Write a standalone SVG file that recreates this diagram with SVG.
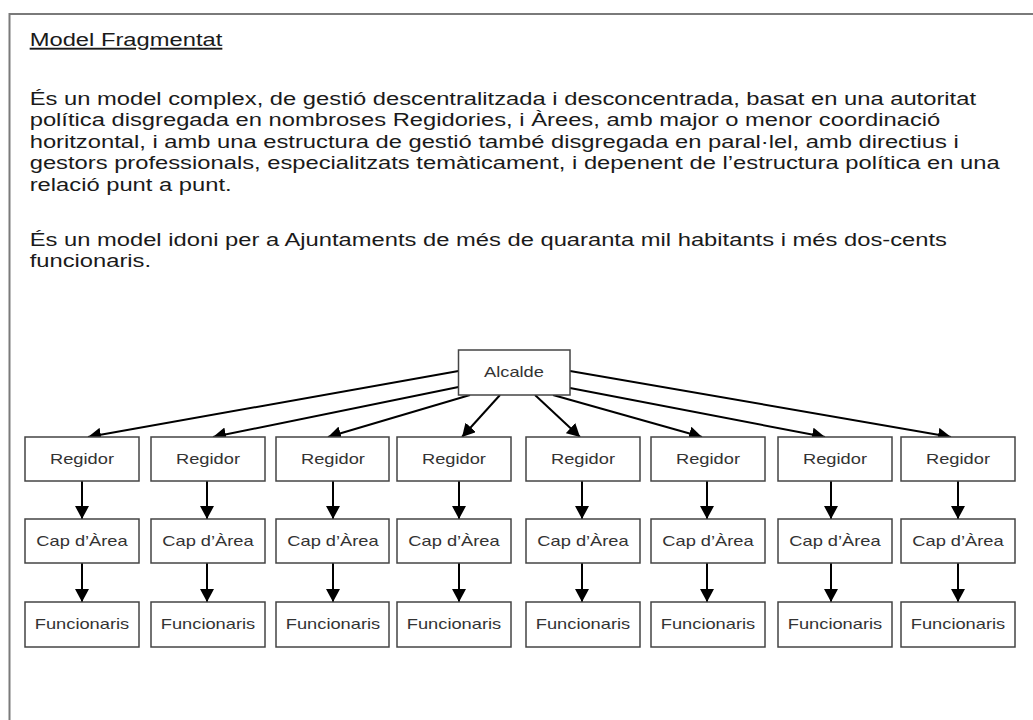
<svg xmlns="http://www.w3.org/2000/svg" width="1033" height="720" viewBox="0 0 1033 720">
<defs>
<marker id="ah" markerUnits="userSpaceOnUse" markerWidth="14" markerHeight="14" refX="13" refY="7" orient="auto">
<path d="M0,0 L13,7 L0,14 z" fill="#000"/>
</marker>
<style>
.frame{stroke:#7a7a7a;stroke-width:2;fill:none}
.box{fill:#fff;stroke:#444;stroke-width:1.5}
.lbl{font-family:"Liberation Sans",Arial,sans-serif;font-size:14.4px;fill:#333;text-anchor:middle}
.para{font-family:"Liberation Sans",Arial,sans-serif;font-size:18.9px;fill:#1a1a1a}
.conn line{stroke:#000;stroke-width:2;marker-end:url(#ah)}
</style>
</defs>
<rect width="1033" height="720" fill="#fff"/>
<path class="frame" d="M9.5,720 V14 H1033"/>
<g id="text">
<text class="para" x="23.62" y="46" transform="scale(1.257 1)" text-decoration="underline">Model Fragmentat</text>
<text class="para" x="23.62" y="105" transform="scale(1.257 1)">És un model complex, de gestió descentralitzada i desconcentrada, basat en una autoritat</text>
<text class="para" x="23.62" y="126.5" transform="scale(1.257 1)">política disgregada en nombroses Regidories, i Àrees, amb major o menor coordinació</text>
<text class="para" x="23.62" y="148" transform="scale(1.257 1)">horitzontal, i amb una estructura de gestió també disgregada en paral·lel, amb directius i</text>
<text class="para" x="23.62" y="169.5" transform="scale(1.257 1)">gestors professionals, especialitzats temàticament, i depenent de l’estructura política en una</text>
<text class="para" x="23.62" y="191" transform="scale(1.257 1)">relació punt a punt.</text>
<text class="para" x="23.62" y="246" transform="scale(1.257 1)">És un model idoni per a Ajuntaments de més de quaranta mil habitants i més dos-cents</text>
<text class="para" x="23.62" y="267.5" transform="scale(1.257 1)">funcionaris.</text>
</g>
<g id="connectors" class="conn">
<line x1="458.5" y1="371" x2="88" y2="437"/>
<line x1="458.5" y1="387" x2="213" y2="437"/>
<line x1="470" y1="395" x2="328" y2="437"/>
<line x1="500" y1="395" x2="462" y2="437"/>
<line x1="535" y1="395" x2="580" y2="437"/>
<line x1="553" y1="395" x2="702" y2="437"/>
<line x1="570" y1="388" x2="825" y2="437"/>
<line x1="570" y1="371" x2="951" y2="437"/>
<line x1="82" y1="481" x2="82" y2="519"/>
<line x1="207" y1="481" x2="207" y2="519"/>
<line x1="333" y1="481" x2="333" y2="519"/>
<line x1="459" y1="481" x2="459" y2="519"/>
<line x1="582" y1="481" x2="582" y2="519"/>
<line x1="707" y1="481" x2="707" y2="519"/>
<line x1="831" y1="481" x2="831" y2="519"/>
<line x1="958" y1="481" x2="958" y2="519"/>
<line x1="82" y1="563" x2="82" y2="602"/>
<line x1="207" y1="563" x2="207" y2="602"/>
<line x1="333" y1="563" x2="333" y2="602"/>
<line x1="459" y1="563" x2="459" y2="602"/>
<line x1="582" y1="563" x2="582" y2="602"/>
<line x1="707" y1="563" x2="707" y2="602"/>
<line x1="831" y1="563" x2="831" y2="602"/>
<line x1="958" y1="563" x2="958" y2="602"/>
</g>
<g id="alcalde"><rect class="box" x="458.5" y="350" width="111.5" height="45"/><text class="lbl" x="404.72" y="377" transform="scale(1.27 1)">Alcalde</text></g>
<g id="regidor1"><rect class="box" x="25" y="437" width="114" height="44"/><text class="lbl" x="64.57" y="464" transform="scale(1.27 1)">Regidor</text></g>
<g id="regidor2"><rect class="box" x="151" y="437" width="114" height="44"/><text class="lbl" x="163.78" y="464" transform="scale(1.27 1)">Regidor</text></g>
<g id="regidor3"><rect class="box" x="276" y="437" width="113" height="44"/><text class="lbl" x="262.2" y="464" transform="scale(1.27 1)">Regidor</text></g>
<g id="regidor4"><rect class="box" x="397" y="437" width="114" height="44"/><text class="lbl" x="357.48" y="464" transform="scale(1.27 1)">Regidor</text></g>
<g id="regidor5"><rect class="box" x="526" y="437" width="114" height="44"/><text class="lbl" x="459.06" y="464" transform="scale(1.27 1)">Regidor</text></g>
<g id="regidor6"><rect class="box" x="651" y="437" width="114" height="44"/><text class="lbl" x="557.48" y="464" transform="scale(1.27 1)">Regidor</text></g>
<g id="regidor7"><rect class="box" x="778" y="437" width="114" height="44"/><text class="lbl" x="657.48" y="464" transform="scale(1.27 1)">Regidor</text></g>
<g id="regidor8"><rect class="box" x="901" y="437" width="114" height="44"/><text class="lbl" x="754.33" y="464" transform="scale(1.27 1)">Regidor</text></g>
<g id="cap1"><rect class="box" x="25" y="519" width="114" height="44"/><text class="lbl" x="64.57" y="546" transform="scale(1.27 1)">Cap d’Àrea</text></g>
<g id="cap2"><rect class="box" x="151" y="519" width="114" height="44"/><text class="lbl" x="163.78" y="546" transform="scale(1.27 1)">Cap d’Àrea</text></g>
<g id="cap3"><rect class="box" x="276" y="519" width="113" height="44"/><text class="lbl" x="262.2" y="546" transform="scale(1.27 1)">Cap d’Àrea</text></g>
<g id="cap4"><rect class="box" x="397" y="519" width="114" height="44"/><text class="lbl" x="357.48" y="546" transform="scale(1.27 1)">Cap d’Àrea</text></g>
<g id="cap5"><rect class="box" x="526" y="519" width="114" height="44"/><text class="lbl" x="459.06" y="546" transform="scale(1.27 1)">Cap d’Àrea</text></g>
<g id="cap6"><rect class="box" x="651" y="519" width="114" height="44"/><text class="lbl" x="557.48" y="546" transform="scale(1.27 1)">Cap d’Àrea</text></g>
<g id="cap7"><rect class="box" x="778" y="519" width="114" height="44"/><text class="lbl" x="657.48" y="546" transform="scale(1.27 1)">Cap d’Àrea</text></g>
<g id="cap8"><rect class="box" x="901" y="519" width="114" height="44"/><text class="lbl" x="754.33" y="546" transform="scale(1.27 1)">Cap d’Àrea</text></g>
<g id="func1"><rect class="box" x="25" y="602" width="114" height="45"/><text class="lbl" x="64.57" y="629" transform="scale(1.27 1)">Funcionaris</text></g>
<g id="func2"><rect class="box" x="151" y="602" width="114" height="45"/><text class="lbl" x="163.78" y="629" transform="scale(1.27 1)">Funcionaris</text></g>
<g id="func3"><rect class="box" x="276" y="602" width="113" height="45"/><text class="lbl" x="262.2" y="629" transform="scale(1.27 1)">Funcionaris</text></g>
<g id="func4"><rect class="box" x="397" y="602" width="114" height="45"/><text class="lbl" x="357.48" y="629" transform="scale(1.27 1)">Funcionaris</text></g>
<g id="func5"><rect class="box" x="526" y="602" width="114" height="45"/><text class="lbl" x="459.06" y="629" transform="scale(1.27 1)">Funcionaris</text></g>
<g id="func6"><rect class="box" x="651" y="602" width="114" height="45"/><text class="lbl" x="557.48" y="629" transform="scale(1.27 1)">Funcionaris</text></g>
<g id="func7"><rect class="box" x="778" y="602" width="114" height="45"/><text class="lbl" x="657.48" y="629" transform="scale(1.27 1)">Funcionaris</text></g>
<g id="func8"><rect class="box" x="901" y="602" width="114" height="45"/><text class="lbl" x="754.33" y="629" transform="scale(1.27 1)">Funcionaris</text></g>
</svg>
